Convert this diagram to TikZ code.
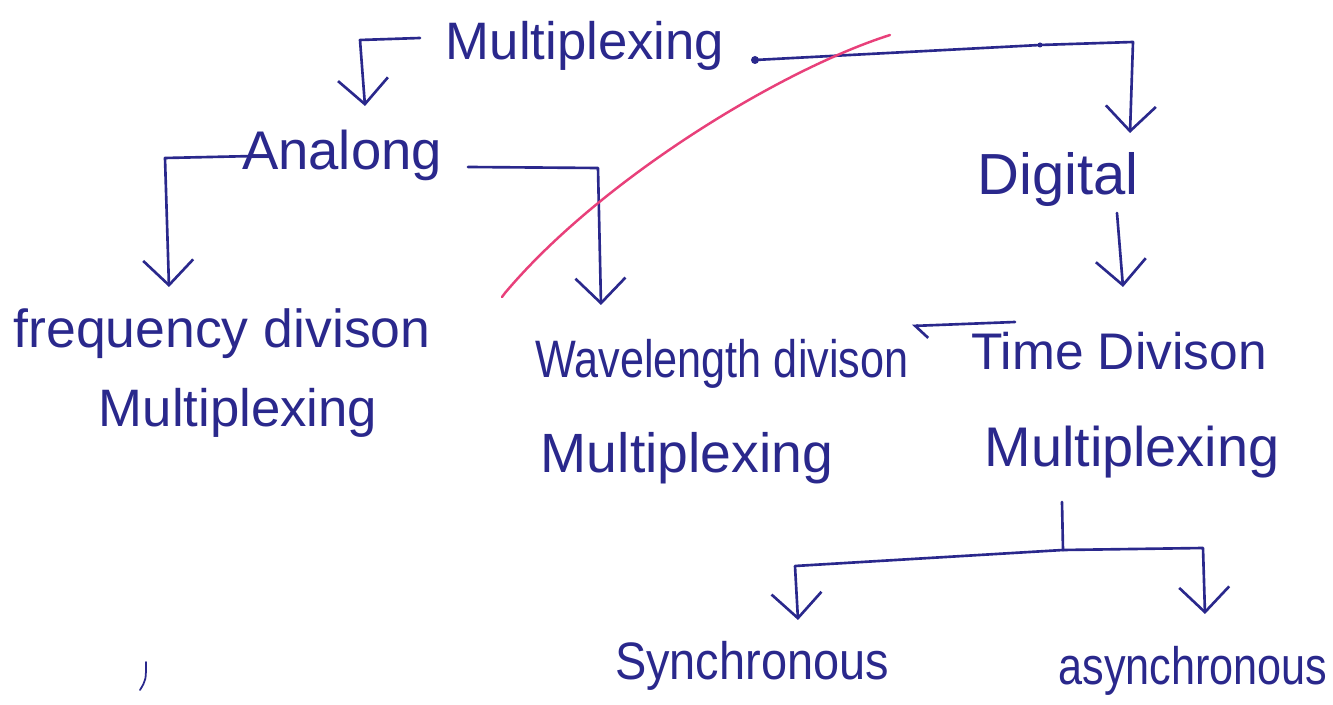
\documentclass[tikz,border=0pt]{standalone}
\usepackage{fontspec}
\setmainfont{Liberation Sans}
\usetikzlibrary{arrows.meta}
\definecolor{ink}{RGB}{42,40,140}
\definecolor{redpen}{RGB}{232,64,122}
\newcommand\hwsize[1]{\fontsize{#1}{#1}\selectfont}
\begin{document}
\begin{tikzpicture}[x=0.02cm,y=-0.02cm,
  hw/.style={text=ink, inner sep=0pt, anchor=base},
  pen/.style={draw=ink, line width=1.5pt, line cap=round, line join=round},
  conn/.style={pen, -{Straight Barb[length=0.5cm,width=1.0cm,line width=1.5pt]}},
  back/.style={pen, -{Straight Barb[left,length=0.25cm,width=0.5cm,line width=1.5pt]}}]
\useasboundingbox (0,0) rectangle (1333,705);
\fill[white] (0,0) rectangle (1333,705);

% labels
\node[hw, font=\hwsize{30}] (mux) at (585,60) {Multiplexing};
\node[hw, font=\hwsize{31}] (ana) at (342,170) {Analong};
\node[hw, font=\hwsize{33}] (dig) at (1058,195) {Digital};
\node[hw, font=\hwsize{30.5}] (fdm1) at (222,348) {frequency divison};
\node[hw, font=\hwsize{30}] (fdm2) at (238,427) {Multiplexing};
\node[hw, font=\hwsize{30}] (wdm1) at (722,378) {\scalebox{0.82}[1]{Wavelength divison}};
\node[hw, font=\hwsize{31.5}] (wdm2) at (687,473) {Multiplexing};
\node[hw, font=\hwsize{29.3}] (tdm1) at (1119,370) {Time Divison};
\node[hw, font=\hwsize{31.8}] (tdm2) at (1132,467) {Multiplexing};
\node[hw, font=\hwsize{30}] (syn) at (752,680) {\scalebox{0.89}[1]{Synchronous}};
\node[hw, font=\hwsize{30}] (asyn) at (1193,685) {\scalebox{0.82}[1]{asynchronous}};

% coordinates
\coordinate (m0) at (420,38);
\coordinate (d0) at (755,60);
\coordinate (a0) at (255,156);
\coordinate (a1) at (468,167);
\coordinate (g0) at (1117,213);
\coordinate (t0) at (1015,322);
\coordinate (s0) at (1062,502);
\coordinate (s1) at (1063,550);

% connectors
\draw[conn] (m0) -- (360,40) -- (365,106);
\fill[ink] (d0) circle (4);
\draw[conn] (d0) -- (1040,45) -- (1133,42) -- (1130,133);
\fill[ink] (1040,45) circle (2.5);
\draw[conn] (a0) -- (165,158) -- (169,287);
\draw[conn] (a1) -- (598,168) -- (601,305);
\draw[conn] (g0) -- (1123,287);
\draw[back] (t0) -- (912,326);
\draw[pen] (s0) -- (s1);
\draw[conn] (s1) -- (795,566) -- (798,620);
\draw[conn] (s1) -- (1203,548) -- (1205,614);

% red pen stroke and stray mark
\draw[redpen, line width=1.4pt, line cap=round] (890,35) .. controls (780,70) and (600,180) .. (505,293) -- (502,297);
\draw[pen, line width=1pt] (146,662) .. controls (146,680) .. (140,690);
\end{tikzpicture}
\end{document}
